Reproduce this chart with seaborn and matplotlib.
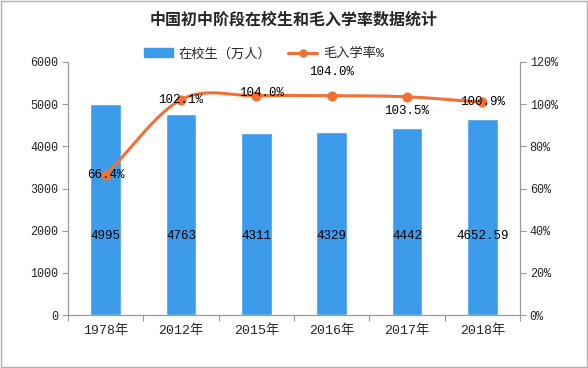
import numpy as np
import pandas as pd
import matplotlib
matplotlib.use("Agg")
import matplotlib.pyplot as plt
import seaborn as sns
from matplotlib.patches import Rectangle
from matplotlib.lines import Line2D

years = ["1978年", "2012年", "2015年", "2016年", "2017年", "2018年"]
students = [4995, 4763, 4311, 4329, 4442, 4652.59]
student_labels = ["4995", "4763", "4311", "4329", "4442", "4652.59"]
rates = [66.4, 102.1, 104.0, 104.0, 103.5, 100.9]
rate_labels = ["66.4%", "102.1%", "104.0%", "104.0%", "103.5%", "100.9%"]

sns.set_theme(style="white")
MONO = ['Liberation Mono', 'Noto Sans CJK SC']
plt.rcParams['font.family'] = MONO

BLUE = "#3D9BEB"
ORANGE = "#F07133"
GRAY = "#9a9a9a"

fig = plt.figure(figsize=(5.88, 3.68), dpi=100)
ax = fig.add_axes([68/588, 1-315/368, (520-68)/588, (315-62)/368])
df = pd.DataFrame({"year": years, "students": students})
sns.barplot(data=df, x="year", y="students", color=BLUE, width=0.41, ax=ax,
            saturation=1)
ax.set_xlabel("")
ax.set_ylabel("")
ax.set_ylim(0, 6000)
ax.set_yticks(range(0, 6001, 1000))
ax.set_xlim(-0.5, 5.5)
for i, lab in enumerate(student_labels):
    ax.text(i, 1870, lab, ha="center", va="center", fontsize=9, color="black")

ax2 = ax.twinx()
ax2.set_ylim(0, 120)
ax2.set_yticks(range(0, 121, 20))
ax2.set_yticklabels([f"{v}%" for v in range(0, 121, 20)])

# smooth (Catmull-Rom) display path through the data points
xs = np.arange(len(rates), dtype=float)
ys = np.array(rates, dtype=float)
px = np.concatenate([[2*xs[0]-xs[1]], xs, [2*xs[-1]-xs[-2]]])
py = np.concatenate([[2*ys[0]-ys[1]], ys, [2*ys[-1]-ys[-2]]])
cx, cy = [], []
t = np.linspace(0, 1, 30)
def cr(a, b, c, d):
    return 0.5*((2*b) + (-a+c)*t + (2*a-5*b+4*c-d)*t**2 + (-a+3*b-3*c+d)*t**3)
for k in range(1, len(px)-2):
    cx.extend(cr(px[k-1], px[k], px[k+1], px[k+2]))
    cy.extend(cr(py[k-1], py[k], py[k+1], py[k+2]))
ax2.plot(cx, cy, color=ORANGE, lw=2.2, zorder=3)
sns.scatterplot(x=xs, y=ys, color=ORANGE, s=45, edgecolor=ORANGE, ax=ax2, zorder=4)

offsets = [(0, 0), (0, 0), (4, 2), (0, 17), (0, -10), (0, 0)]
for i, (lab, off) in enumerate(zip(rate_labels, offsets)):
    ax2.annotate(lab, (i, rates[i]), xytext=off, textcoords="offset points",
                 ha="center", va="center", fontsize=9, color="black",
                 annotation_clip=False, zorder=5)

for a in (ax, ax2):
    for s in a.spines.values():
        s.set_color(GRAY)
        s.set_linewidth(0.8)
    a.spines["top"].set_visible(False)
    a.tick_params(axis="y", length=4, width=0.8, color=GRAY, labelsize=8.5, pad=3)
ax.tick_params(axis="y", direction="out", left=True)
ax2.tick_params(axis="y", direction="out", right=True)
ax.tick_params(axis="x", length=0, labelsize=9.5, pad=7)
ax.set_xticks(np.arange(-0.5, 6, 1), minor=True)
ax.tick_params(axis="x", which="minor", length=4, width=0.8, color=GRAY, bottom=True)
ax.grid(False); ax2.grid(False)

fig.text(0.5, 1-20/368, "中国初中阶段在校生和毛入学率数据统计", ha="center", va="center",
         fontsize=11.5, fontweight="bold", family=['Noto Sans CJK SC'])

handles = [Rectangle((0, 0), 1, 1, color=BLUE),
           Line2D([0], [0], color=ORANGE, lw=2.2, marker="o", markersize=5)]
fig.legend(handles, ["在校生（万人）", "毛入学率%"], loc="center",
           bbox_to_anchor=(264/588, 1-54/368), ncol=2, frameon=False, fontsize=9.5,
           handlelength=2.2, handleheight=0.6, columnspacing=1.3, handletextpad=0.4)

fig.patches.append(Rectangle((0.001, 0.002), 0.997, 0.995, transform=fig.transFigure,
                             fill=False, edgecolor="#b0b0b0", lw=1))
fig.savefig("out.png", dpi=100)
